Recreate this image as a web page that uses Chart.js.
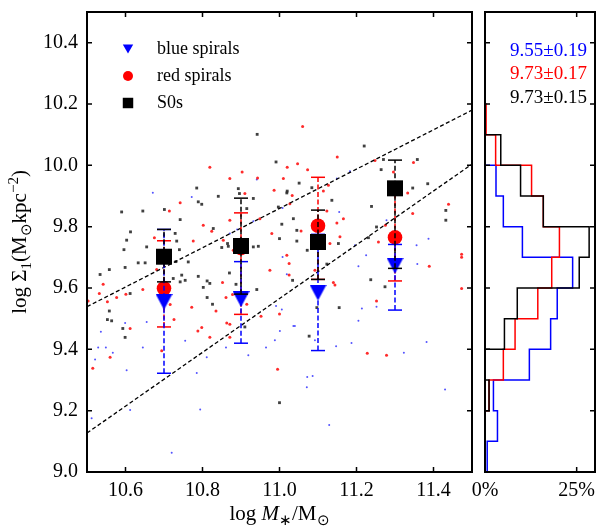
<!DOCTYPE html>
<html><head><meta charset="utf-8">
<script src="https://cdn.jsdelivr.net/npm/chart.js@4.4.1/dist/chart.umd.min.js"></script>
<style>
html,body{margin:0;padding:0;background:#fff;}
#wrap{position:relative;width:596px;height:527px;overflow:hidden;background:#fff;}
#main{position:absolute;left:0;top:0;width:484px;height:527px;}
#side{position:absolute;left:466px;top:0;width:130px;height:527px;}
</style></head><body>
<div id="wrap"><canvas id="main" width="484" height="527"></canvas><canvas id="side" width="130" height="527"></canvas></div>
<script>
// ---------------- data ----------------
const xTicks = [10.6, 10.8, 11.0, 11.2, 11.4];
const yTicks = [9.0, 9.2, 9.4, 9.6, 9.8, 10.0, 10.2, 10.4];
const pctTicks = [0, 25];

const seriesNames = ['blue spirals', 'red spirals', 'S0s'];

// individual galaxies
const blackDotX = [10.942,10.991,10.785,10.590,10.645,10.701,10.789,10.798,10.893,10.932,10.841,10.742,10.613,10.603,10.596,10.655,10.729,11.020,10.997,11.036,11.000,11.045,10.828,10.865,10.932,10.850,10.896,
  11.220,11.264,11.270,11.358,11.385,11.051,11.019,11.084,11.136,11.239,11.346,11.432,11.432,11.252,11.231,11.153,11.045,11.072,11.006,
  10.534,10.558,10.599,10.633,10.651,10.558,10.553,10.564,10.593,10.599,10.612,10.724,10.742,10.755,10.746,10.763,10.789,10.812,10.819,10.802,10.812,10.826,10.870,10.910,10.887,10.941,11.000,
  11.034,11.097,11.155,11.077,11.237,11.274,11.123,10.733,10.740,10.731,10.915,10.867,10.945];
const blackDotY = [10.101,10.011,9.926,9.848,9.851,9.856,9.881,9.873,9.924,9.892,9.899,9.823,9.783,9.756,9.725,9.734,9.778,9.916,9.864,9.826,9.761,9.788,9.794,9.745,9.734,9.732,9.908,
  10.063,9.986,10.019,10.019,9.940,9.942,9.910,9.927,9.886,9.866,9.926,9.853,9.821,9.799,9.764,9.745,9.753,9.723,9.808,
  9.644,9.660,9.667,9.682,9.682,9.525,9.497,9.493,9.468,9.439,9.582,9.631,9.620,9.625,9.642,9.685,9.638,9.623,9.615,9.602,9.569,9.547,9.649,9.473,9.612,9.595,9.226,
  9.625,9.536,9.536,9.443,9.627,9.604,9.678,9.753,9.725,9.686,9.859,9.736,9.736];

const redDotX = [10.819,10.903,10.871,10.943,11.020,11.010,11.047,10.742,10.714,10.675,10.802,10.824,10.871,10.910,10.949,10.986,11.027,10.776,10.854,10.980,10.880,11.019,
  11.060,11.150,11.073,11.114,11.127,11.033,11.123,11.166,11.149,11.248,11.348,11.333,11.346,11.439,11.296,11.275,11.257,11.157,11.131,11.056,11.110,11.473,11.473,
  10.515,10.503,10.532,10.542,10.553,10.577,10.560,10.612,10.601,10.645,10.681,10.694,10.726,10.716,10.772,10.788,10.798,10.819,10.835,10.852,10.861,10.863,10.871,10.871,10.878,10.915,10.952,10.975,11.000,10.995,11.025,
  11.140,11.144,11.092,11.252,11.228,11.278,11.389,11.473,11.025];
const redDotY = [9.994,9.978,9.957,9.959,9.994,9.957,10.005,9.878,9.851,9.764,9.805,9.785,9.821,9.908,9.826,9.919,9.875,9.753,9.756,9.778,9.723,9.707,
  10.127,10.027,9.986,9.916,9.935,9.902,9.851,9.826,9.812,10.016,10.009,9.910,9.843,9.873,9.978,9.805,9.750,9.767,9.745,9.786,9.769,9.710,9.700,
  9.338,9.558,9.582,9.612,9.555,9.569,9.374,9.468,9.580,9.595,9.660,9.395,9.497,9.546,9.537,9.460,9.471,9.439,9.525,9.618,9.569,9.486,9.482,9.439,9.579,9.547,9.508,9.658,9.515,9.335,9.642,
  9.618,9.610,9.658,9.558,9.387,9.381,9.671,9.598,9.680];

const blueDotX = [10.671,10.772,10.941,11.008,10.890,10.932,10.871,11.008,
  11.155,11.183,11.149,11.278,11.387,11.356,11.225,11.196,
  10.512,10.521,10.529,10.536,10.549,10.567,10.599,10.603,10.612,10.645,10.655,10.720,10.755,10.785,10.794,10.811,10.861,10.919,10.965,10.988,11.001,11.036,10.991,11.019,
  11.006,11.040,11.072,11.086,11.071,11.129,11.147,11.187,11.205,11.214,11.252,11.205,11.358,11.382,11.323,11.430,11.092];
const blueDotY = [9.911,9.897,9.954,9.861,9.791,9.818,9.778,9.701,
  9.848,9.981,9.957,9.821,9.761,9.739,9.707,9.739,
  9.175,9.367,9.406,9.457,9.406,9.389,9.486,9.332,9.202,9.406,9.489,9.063,9.428,9.323,9.204,9.374,9.406,9.381,9.406,9.430,9.460,9.476,9.541,9.645,
  9.530,9.476,9.310,9.313,9.276,9.153,9.410,9.421,9.493,9.533,9.539,9.671,9.678,9.424,9.389,9.269,9.430];

// binned medians with error ranges
const massBins = [10.7, 10.9, 11.1, 11.3];
const blueMed = [9.555, 9.564, 9.585, 9.673];
const blueLo  = [9.322, 9.420, 9.396, 9.528];
const blueHi  = [9.791, 9.686, 9.775, 9.742];
const redMed  = [9.599, 9.730, 9.803, 9.765];
const redLo   = [9.473, 9.514, 9.628, 9.623];
const redHi   = [9.754, 9.845, 9.961, 9.910];
const s0Med   = [9.702, 9.737, 9.750, 9.925];
const s0Lo    = [9.620, 9.580, 9.628, 9.664];
const s0Hi    = [9.791, 9.893, 9.854, 10.017];

// dashed reference lines (end points)
const refLineX = [10.5, 11.5];
const refUpperY = [9.539, 10.180];
const refLowerY = [9.127, 10.004];

// histograms of log Sigma_1 (percent per 0.1 dex bin)
const histEdges = [9.0, 9.1, 9.2, 9.3, 9.4, 9.5, 9.6, 9.7, 9.8, 9.9, 10.0, 10.1, 10.2, 10.3];
const blueHist  = [0.6, 3.4, 2.3, 12.1, 17.9, 19.7, 23.9, 10.2, 5.0, 3.0, 0, 0, 0];
const redHist   = [0, 0, 1.1, 5.0, 8.2, 14.4, 18.2, 20.3, 15.9, 12.7, 2.9, 0.3, 0];
const s0Hist    = [0, 0, 1.1, 0, 5.3, 8.8, 25.7, 28.4, 15.9, 9.7, 4.3, 0, 0];
const statLabels = ['9.55±0.19', '9.73±0.17', '9.73±0.15'];

// ---------------- helpers ----------------
const FAM = "'Liberation Serif', 'Times New Roman', serif";
const BLUE = '#0000ff', RED = '#ff0000', BLACK = '#000000';
const pts = (xs, ys) => xs.map((x, i) => ({x, y: ys[i]}));
const errSegs = (xs, lo, hi) => xs.flatMap((x, i) => [{x, y: lo[i]}, {x, y: hi[i]}, {x, y: null}]);
const capPts = (xs, lo, hi) => xs.flatMap((x, i) => [{x, y: lo[i]}, {x, y: hi[i]}]);
const stepPts = (edges, vals) => {
  const out = [{x: 0, y: edges[0]}];
  vals.forEach((v, i) => { out.push({x: v, y: edges[i]}); out.push({x: v, y: edges[i + 1]}); });
  out.push({x: 0, y: edges[edges.length - 1]});
  return out;
};

// downward triangle marker centred on its bounding box (matplotlib 'v')
function triImage(w, h, color) {
  const c = document.createElement('canvas');
  c.width = Math.ceil(w); c.height = Math.ceil(h);
  const g = c.getContext('2d');
  g.fillStyle = color;
  g.beginPath(); g.moveTo(0, 0); g.lineTo(c.width, 0); g.lineTo(c.width / 2, c.height); g.closePath(); g.fill();
  return c;
}

function fontFor(p, size) {
  const s = (p.s === 'sub' || p.s === 'sup') ? Math.round(size * 0.7) : size;
  return (p.i ? 'italic ' : '') + s + 'px ' + FAM;
}
function drawRich(ctx, parts, x, y, size) {
  let total = 0;
  parts.forEach(p => { ctx.font = fontFor(p, size); total += ctx.measureText(p.t).width; });
  let cx = x - total / 2;
  ctx.textAlign = 'left'; ctx.textBaseline = 'alphabetic';
  parts.forEach(p => {
    ctx.font = fontFor(p, size);
    const dy = p.s === 'sub' ? size * 0.22 : (p.s === 'sup' ? -size * 0.38 : 0);
    ctx.fillText(p.t, cx, y + dy);
    cx += ctx.measureText(p.t).width;
  });
}

function frameTicks(xSkip0) {
  return {
    id: 'frameTicks',
    afterDatasetsDraw(chart) {
      const {ctx, chartArea: a, scales} = chart;
      const L = 5;
      ctx.save();
      ctx.strokeStyle = '#000';
      ctx.lineWidth = 1.5;
      ctx.beginPath();
      scales.x.ticks.forEach(t => {
        if (xSkip0 && t.value === 0) return;
        const px = scales.x.getPixelForValue(t.value);
        ctx.moveTo(px, a.bottom); ctx.lineTo(px, a.bottom - L);
        ctx.moveTo(px, a.top); ctx.lineTo(px, a.top + L);
      });
      scales.y.ticks.forEach(t => {
        const py = scales.y.getPixelForValue(t.value);
        ctx.moveTo(a.left, py); ctx.lineTo(a.left + L, py);
        ctx.moveTo(a.right, py); ctx.lineTo(a.right - L, py);
      });
      ctx.stroke();
      ctx.lineWidth = 2;
      ctx.strokeRect(a.left, a.top, a.right - a.left, a.bottom - a.top);
      ctx.restore();
    }
  };
}

const mainTitles = {
  id: 'mainTitles',
  afterDraw(chart) {
    const {ctx, chartArea: a} = chart;
    ctx.save();
    ctx.fillStyle = '#000';
    drawRich(ctx, [{t: 'log '}, {t: 'M', i: true}, {t: '∗', s: 'sub'}, {t: '/M'}, {t: '⊙', s: 'sub'}], (a.left + a.right) / 2, 520, 21);
    ctx.translate(26, (a.top + a.bottom) / 2);
    ctx.rotate(-Math.PI / 2);
    drawRich(ctx, [{t: 'log Σ'}, {t: '1', s: 'sub'}, {t: '(M'}, {t: '⊙', s: 'sub'}, {t: 'kpc'}, {t: '−2', s: 'sup'}, {t: ')'}], 0, 0, 21);
    ctx.restore();
  }
};

// legend drawn inside the plot, upper left
const legendItems = [
  {text: seriesNames[0], color: BLUE, style: 'triangle', r: 6, rot: 180, dy: -1.5},
  {text: seriesNames[1], color: RED, style: 'circle', r: 5, rot: 0, dy: 0},
  {text: seriesNames[2], color: BLACK, style: 'rect', r: 7.4, rot: 0, dy: 0}
];
const insideLegend = {
  id: 'insideLegend',
  afterDatasetsDraw(chart) {
    const {ctx, chartArea: a} = chart;
    ctx.save();
    legendItems.forEach((it, i) => {
      const cx = a.left + 41, cy = a.top + 37 + i * 27;
      ctx.fillStyle = it.color; ctx.strokeStyle = it.color;
      Chart.helpers.drawPoint(ctx, {pointStyle: it.style, radius: it.r, rotation: it.rot, borderWidth: 0}, cx, cy + it.dy);
      ctx.fillStyle = '#000';
      ctx.font = '18px ' + FAM;
      ctx.textAlign = 'left'; ctx.textBaseline = 'middle';
      ctx.fillText(it.text, a.left + 70, cy);
    });
    ctx.restore();
  }
};

const sideText = {
  id: 'sideText',
  afterDraw(chart) {
    const {ctx, chartArea: a} = chart;
    ctx.save();
    ctx.font = '19px ' + FAM;
    ctx.textAlign = 'right'; ctx.textBaseline = 'alphabetic';
    const cols = [BLUE, RED, BLACK];
    const base = [56, 79, 103];
    statLabels.forEach((s, i) => { ctx.fillStyle = cols[i]; ctx.fillText(s, a.right - 8, base[i]); });
    ctx.restore();
  }
};

// ---------------- main chart ----------------
const dot = (label, data, color, style, r) => ({
  label, data, pointStyle: style, pointRadius: r, pointHoverRadius: r,
  pointBackgroundColor: color, pointBorderWidth: 0
});
const errLine = (data, color) => ({
  label: 'err', data, showLine: true, spanGaps: false, pointRadius: 0, pointHoverRadius: 0,
  borderColor: color, borderWidth: 1.5, borderDash: [5, 2.5]
});
const caps = (data, color) => ({
  label: 'cap', data, pointStyle: 'line', pointRadius: 7, pointHoverRadius: 7,
  pointBorderColor: color, pointBorderWidth: 1.5
});
const marker = (label, data, color, style, r) => ({
  label, data, pointStyle: style, pointRadius: r, pointHoverRadius: r,
  pointBackgroundColor: color, pointBorderColor: color, pointBorderWidth: 0,
  backgroundColor: color, borderColor: color, borderWidth: 0
});

// listed bottom-to-top, then reversed (Chart.js paints dataset 0 last)
const mainDatasets = [
  dot('blue dots', pts(blueDotX, blueDotY), 'rgba(40,40,255,0.8)', 'circle', 1.0),
  dot('red dots', pts(redDotX, redDotY), 'rgba(255,20,20,0.9)', 'circle', 1.5),
  dot('black dots', pts(blackDotX, blackDotY), 'rgba(30,30,30,0.85)', 'rect', 2.0),
  {label: 'upper', data: pts(refLineX, refUpperY), showLine: true, pointRadius: 0, pointHoverRadius: 0, borderColor: '#000', borderWidth: 1.3, borderDash: [4, 2.5]},
  {label: 'lower', data: pts(refLineX, refLowerY), showLine: true, pointRadius: 0, pointHoverRadius: 0, borderColor: '#000', borderWidth: 1.3, borderDash: [4, 2.5]},
  errLine(errSegs(massBins, redLo, redHi), RED),
  caps(capPts(massBins, redLo, redHi), RED),
  marker(seriesNames[1], pts(massBins, redMed), RED, 'circle', 7.3),
  errLine(errSegs(massBins, blueLo, blueHi), BLUE),
  caps(capPts(massBins, blueLo, blueHi), BLUE),
  marker(seriesNames[0], pts(massBins, blueMed), BLUE, triImage(17, 15.5, BLUE), 9.6),
  errLine(errSegs(massBins, s0Lo, s0Hi), BLACK),
  caps(capPts(massBins, s0Lo, s0Hi), BLACK),
  marker(seriesNames[2], pts(massBins, s0Med), BLACK, 'rect', 11.3)
].reverse();

const tickFont = {family: FAM, size: 20};

new Chart(document.getElementById('main'), {
  type: 'scatter',
  data: {datasets: mainDatasets},
  options: {
    responsive: false, animation: false, devicePixelRatio: 1, events: [],
    layout: {padding: {top: 12, right: 12, left: 0, bottom: 0}},
    scales: {
      x: {
        type: 'linear', min: 10.5, max: 11.5,
        afterBuildTicks: s => { s.ticks = xTicks.map(v => ({value: v})); },
        afterFit: s => { s.height = 55; },
        grid: {display: false, drawTicks: true, tickLength: 7}, border: {display: false},
        ticks: {font: tickFont, color: '#000', padding: 0, autoSkip: false, maxRotation: 0, callback: v => v.toFixed(1)}
      },
      y: {
        type: 'linear', min: 9.0, max: 10.5,
        afterBuildTicks: s => { s.ticks = yTicks.map(v => ({value: v})); },
        afterFit: s => { s.width = 87; },
        grid: {display: false, drawTicks: true, tickLength: 9}, border: {display: false},
        ticks: {font: tickFont, color: '#000', padding: 0, autoSkip: false, callback: v => v.toFixed(1)}
      }
    },
    plugins: {tooltip: {enabled: false}, legend: {display: false}}
  },
  plugins: [frameTicks(false), insideLegend, mainTitles]
});

// ---------------- side histogram chart ----------------
const histLine = (label, data, color) => ({
  label, data, showLine: true, pointRadius: 0, pointHoverRadius: 0, pointBorderWidth: 0,
  borderColor: color, borderWidth: 1.5, tension: 0
});

new Chart(document.getElementById('side'), {
  type: 'scatter',
  data: {datasets: [
    histLine(seriesNames[2], stepPts(histEdges, s0Hist), BLACK),
    histLine(seriesNames[1], stepPts(histEdges, redHist), RED),
    histLine(seriesNames[0], stepPts(histEdges, blueHist), BLUE)
  ]},
  options: {
    responsive: false, animation: false, devicePixelRatio: 1, events: [],
    layout: {padding: {top: 12, right: 1, left: 0, bottom: 0}},
    scales: {
      x: {
        type: 'linear', min: 0, max: 30,
        afterBuildTicks: s => { s.ticks = pctTicks.map(v => ({value: v})); },
        afterFit: s => { s.height = 55; },
        grid: {display: false, drawTicks: true, tickLength: 7}, border: {display: false},
        ticks: {font: tickFont, color: '#000', padding: 0, autoSkip: false, maxRotation: 0, callback: v => v + '%'}
      },
      y: {
        type: 'linear', min: 9.0, max: 10.5,
        afterBuildTicks: s => { s.ticks = yTicks.map(v => ({value: v})); },
        afterFit: s => { s.width = 19; },
        grid: {display: false, drawTicks: false}, border: {display: false},
        ticks: {display: false}
      }
    },
    plugins: {tooltip: {enabled: false}, legend: {display: false}}
  },
  plugins: [frameTicks(true), sideText]
});
</script>
</body></html>
